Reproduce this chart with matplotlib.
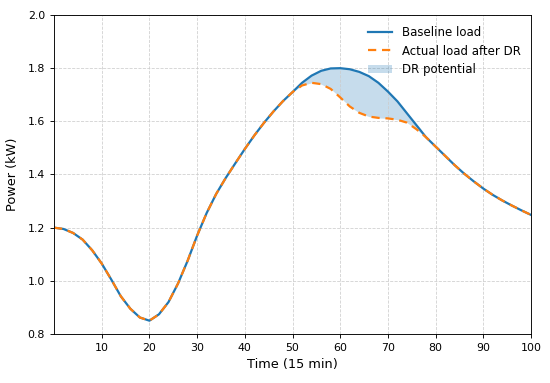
import matplotlib
matplotlib.use("Agg")
import matplotlib.pyplot as plt
import numpy as np

time = list(range(0, 101, 2))
baseline = [1.200, 1.195, 1.180, 1.155, 1.115, 1.065, 1.005, 0.942, 0.895, 0.862,
            0.850, 0.874, 0.920, 0.990, 1.075, 1.170, 1.255, 1.327, 1.387, 1.442,
            1.496, 1.547, 1.594, 1.637, 1.676, 1.710, 1.745, 1.772, 1.790, 1.799,
            1.800, 1.796, 1.786, 1.770, 1.745, 1.712, 1.675, 1.630, 1.585, 1.540,
            1.505, 1.470, 1.435, 1.403, 1.374, 1.347, 1.323, 1.302, 1.283, 1.265,
            1.248]
actual = [1.200, 1.195, 1.180, 1.155, 1.115, 1.065, 1.005, 0.942, 0.895, 0.862,
          0.850, 0.874, 0.920, 0.990, 1.075, 1.170, 1.255, 1.327, 1.387, 1.442,
          1.496, 1.547, 1.594, 1.637, 1.676, 1.710, 1.735, 1.745, 1.740, 1.722,
          1.690, 1.656, 1.632, 1.618, 1.613, 1.611, 1.606, 1.595, 1.570, 1.540,
          1.505, 1.470, 1.435, 1.403, 1.374, 1.347, 1.323, 1.302, 1.283, 1.265,
          1.248]
xticks = [10, 20, 30, 40, 50, 60, 70, 80, 90, 100]
yticks = [0.8, 1.0, 1.2, 1.4, 1.6, 1.8, 2.0]

fig = plt.figure(figsize=(5.5, 3.83), dpi=100)
ax = fig.add_axes([0.0982, 0.128, 0.8673, 0.8328])

t = np.array(time)
b = np.array(baseline)
a = np.array(actual)
ax.plot(t, b, color="#1f77b4", lw=1.6, label="Baseline load")
ax.plot(t, a, color="#ff7f0e", lw=1.6, ls=(0, (3.7, 2.6)), label="Actual load after DR")
ax.fill_between(t, a, b, where=b >= a, color="#1f77b4", alpha=0.25, lw=0,
                label="DR potential")

ax.set_xlim(0, 100)
ax.set_ylim(0.8, 2.0)
ax.set_xticks(xticks)
ax.set_yticks(yticks)
ax.set_yticklabels([f"{v:.1f}" for v in yticks])
ax.grid(True, ls="--", color="#cccccc", lw=0.6, alpha=0.9)
ax.set_xlabel("Time (15 min)", fontsize=9.3, labelpad=4)
ax.set_ylabel("Power (kW)", fontsize=9.3, labelpad=6)
ax.tick_params(labelsize=7.9, length=3.2, width=0.65, pad=3.2)
for s in ax.spines.values():
    s.set_linewidth(0.65)
ax.legend(loc="upper right", frameon=False, fontsize=8.5)

fig.savefig("out.png", dpi=100)
